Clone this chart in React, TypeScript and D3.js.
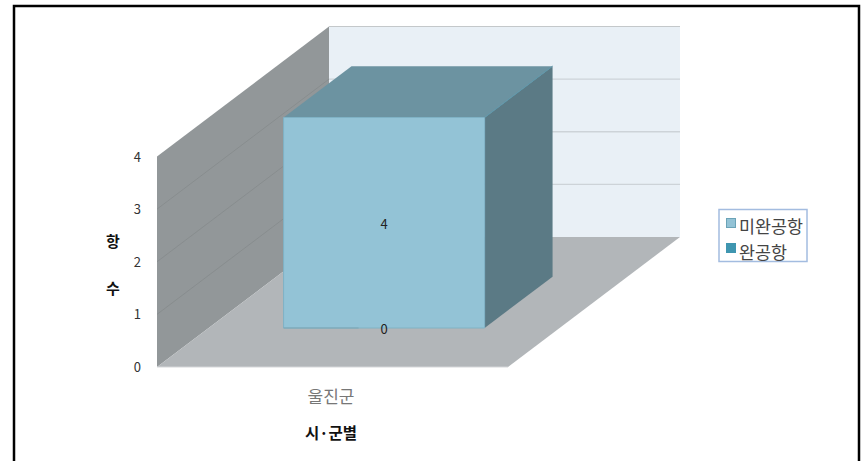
import React from 'react'
import * as d3 from 'd3'

const categories = ['울진군']
const seriesNames = ['미완공항', '완공항']
const unfinished = [4]
const finished = [0]
const yTicks = [0, 1, 2, 3, 4]
const gridTicks = [1, 2, 3, 4]

const width = 863
const height = 461
const font = '"Noto Sans CJK KR", "Noto Sans", sans-serif'

// front edge of the floor, the rest is pushed back by the depth vector
const xScale = d3.scaleBand().domain(categories).range([157, 508]).paddingInner(0.2716).paddingOuter(0.2716)
const yScale = d3.scaleLinear().domain([0, 4]).range([367, 156.5])
const depth = { dx: 172, dy: 130 }
const barDepth = [0.3, 0.695]

const project = (x: number, v: number, z: number): [number, number] => [
  x + z * depth.dx,
  yScale(v) - z * depth.dy
]
const poly = d3.line().curve(d3.curveLinearClosed)
const line = d3.line()

function App() {
  const [x0, x1] = xScale.range()
  const cat = categories[0]
  const bx0 = xScale(cat) as number
  const bx1 = bx0 + xScale.bandwidth()
  const [zf, zb] = barDepth
  const top = unfinished[0]
  const mid = bx0 + xScale.bandwidth() / 2 + zf * depth.dx

  return (
    <svg
      width={width}
      height={height}
      style={{ position: 'absolute', left: 0, top: 0, background: '#fff' }}
      fontFamily={font}
    >
      <g style={{ filter: 'blur(0.35px)' }}>
        {/* back wall */}
        <path d={poly([project(x0, 0, 1), project(x0, 4, 1), project(x1, 4, 1), project(x1, 0, 1)]) as string} fill="#e9f0f6" />
        <path d={line([project(x0, 4, 1), project(x1, 4, 1)]) as string} stroke="#c4c8ca" strokeWidth={1.2} fill="none" />
        {gridTicks.slice(0, -1).map(t => (
          <path key={t} d={line([project(x0, t, 1), project(x1, t, 1)]) as string} stroke="#cdd3d8" strokeWidth={1.4} fill="none" />
        ))}

        {/* side wall */}
        <path d={poly([project(x0, 0, 0), project(x0, 4, 0), project(x0, 4, 1), project(x0, 0, 1)]) as string} fill="#929799" />
        {gridTicks.slice(0, -1).map(t => (
          <path key={t} d={line([project(x0, t, 0), project(x0, t, 1)]) as string} stroke="#858a8b" strokeWidth={0.8} fill="none" />
        ))}

        {/* floor */}
        <path d={poly([project(x0, 0, 0), project(x1, 0, 0), project(x1, 0, 1), project(x0, 0, 1)]) as string} fill="#b2b6b9" />
        <path d={line([project(x0, 0, 0), project(x1, 0, 0)]) as string} stroke="#d5d7d9" strokeWidth={1} fill="none" />

        {/* bar */}
        <path d={poly([project(bx0, top, zf), project(bx1, top, zf), project(bx1, top, zb), project(bx0, top, zb)]) as string} fill="#6c93a1" />
        <path d={poly([project(bx1, 0, zf), project(bx1, top, zf), project(bx1, top, zb), project(bx1, 0, zb)]) as string} fill="#5b7a85" />
        <path
          d={poly([project(bx0, 0, zf), project(bx1, 0, zf), project(bx1, top, zf), project(bx0, top, zf)]) as string}
          fill="#93c3d6"
          stroke="#7fb2c5"
          strokeWidth={1}
        />
        <path d={line([project(bx1, top, zf), project(bx1, top, zb)]) as string} stroke="#5c97ab" strokeWidth={1} fill="none" />
        {/* zero height bar of the second series */}
        <path
          d={line([project(bx0, finished[0], zf), project(bx0 + 75, finished[0], zf)]) as string}
          stroke="#7aa5b5"
          strokeWidth={1}
          fill="none"
        />
      </g>

      {/* value labels */}
      <text x={mid} y={(project(bx0, top, zf)[1] + project(bx0, 0, zf)[1]) / 2 + 6} textAnchor="middle" fontSize={13} fill="#222">
        {unfinished[0]}
      </text>
      <text x={mid} y={project(bx0, finished[0], zf)[1] + 6} textAnchor="middle" fontSize={13} fill="#222">
        {finished[0]}
      </text>

      {/* y axis */}
      {yTicks.map(t => (
        <text key={t} x={141} y={yScale(t) + 5} textAnchor="end" fontSize={13} fill="#333">
          {t}
        </text>
      ))}
      <text x={113} y={247} textAnchor="middle" fontSize={15} fontWeight="bold" fill="#111">항</text>
      <text x={113} y={294} textAnchor="middle" fontSize={15} fontWeight="bold" fill="#111">수</text>

      {/* x axis */}
      <text x={331} y={403} textAnchor="middle" fontSize={17} fill="#777">{cat}</text>
      <text x={331} y={439} textAnchor="middle" fontSize={15.5} fontWeight="bold" fill="#111">시·군별</text>

      {/* legend */}
      <rect x={719} y={209.5} width={88} height={52} fill="#fff" stroke="#a3bce0" strokeWidth={1.5} />
      <rect x={726.5} y={218.5} width={9} height={9} fill="#93c3d6" stroke="#6ba3b7" />
      <rect x={726.5} y={243.5} width={9} height={9} fill="#3f96b0" stroke="#3f96b0" />
      <text x={739} y={233} fontSize={17.4} fill="#444">{seriesNames[0]}</text>
      <text x={739} y={259} fontSize={17.4} fill="#444">{seriesNames[1]}</text>

      {/* outer frame */}
      <path d={`M14,${height}V6H859V${height}`} fill="none" stroke="#000" strokeWidth={2.5} />
    </svg>
  )
}

export default App
